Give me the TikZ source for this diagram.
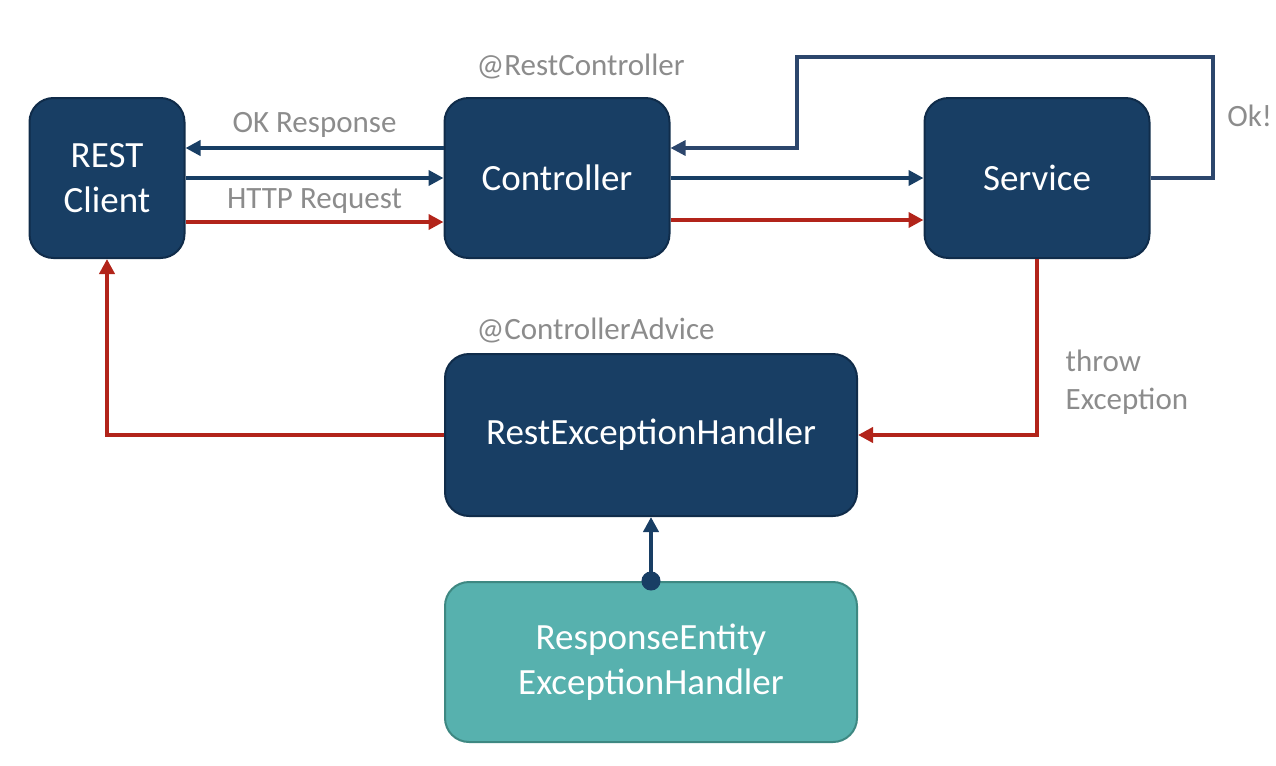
\documentclass[tikz,border=0pt]{standalone}
\usepackage{fontspec}
\setmainfont{Carlito}
\usetikzlibrary{arrows.meta,positioning}
\definecolor{flow@navy}{RGB}{24,62,100}
\definecolor{flow@edge}{RGB}{16,44,74}
\definecolor{flow@loop}{RGB}{44,70,108}
\definecolor{flow@red}{RGB}{178,36,26}
\definecolor{flow@teal}{RGB}{87,177,174}
\definecolor{flow@tealedge}{RGB}{62,136,130}
\definecolor{flow@gray}{RGB}{140,140,140}
\tikzset{
  flow/.style={
    x=0.5pt, y=-0.5pt,
    >={Triangle[length=7.5pt,width=7.5pt]},
    line width=2pt
  },
  compbox/.style={                 % dark component box
    draw=flow@edge, line width=1pt,
    rounded corners=12pt,
    fill=flow@navy,
    text=white,
    align=center,
    inner sep=0pt,
    font=\fontsize{18.5}{22.5}\selectfont,
    minimum width=112.5pt,
    minimum height=80pt
  },
  basebox/.style={                 % library base class box
    compbox,
    draw=flow@tealedge,
    fill=flow@teal
  },
  okarrow/.style={->, draw=flow@navy},
  errarrow/.style={->, draw=flow@red},
  annot/.style={font=\fontsize{15.5}{19}\selectfont, text=flow@gray}
}
\begin{document}
\begin{tikzpicture}[flow]
\useasboundingbox (0,0) rectangle (1276,766);

\node[compbox, minimum width=77.5pt] (client) at (107,178) {REST\\Client};
\node[compbox]                       (ctrl)   at (557,178) {Controller};
\node[compbox]                       (svc)    at (1037,178) {Service};
\node[compbox, minimum width=206pt, minimum height=81pt] (reh) at (651,435) {RestExceptionHandler};
\node[basebox, minimum width=206pt]  (ent)    at (651,662) {ResponseEntity\\ExceptionHandler};

\node[annot, anchor=west] (rcann) at (468,66)  {@RestController};
\node[annot, anchor=west] (caann) at (468,330) {@ControllerAdvice};

\coordinate (okA) at (1213,57);
\coordinate (okB) at (797,57);

% client <-> controller
\draw[okarrow] ([yshift=15pt]ctrl.west) -- node[annot, above=1pt] {OK Response} ([yshift=15pt]client.east);
\draw[okarrow] (client.east) -- node[annot, below=1pt] {HTTP Request} (ctrl.west);
\draw[errarrow] ([yshift=-22pt]client.east) -- ([yshift=-22pt]ctrl.west);

% controller <-> service
\draw[okarrow] (ctrl.east) -- (svc.west);
\draw[errarrow] ([yshift=-21pt]ctrl.east) -- ([yshift=-21pt]svc.west);
\draw[okarrow, draw=flow@loop, line width=1.6pt] (svc.east) -| (okA) -- node[pos=0, annot, anchor=north west, xshift=3pt, yshift=-20pt] {Ok!} (okB) |- ([yshift=15pt]ctrl.east);

% exception path
\draw[errarrow] (svc.south) |- node[pos=0.35, annot, anchor=west, align=left, xshift=10pt] {throw\\Exception} (reh.east);
\draw[errarrow] (reh.west) -| (client.south);
\draw[draw=flow@navy, {Circle[length=9.5pt,width=9.5pt]}-{Triangle[length=7.5pt,width=7.5pt]}, shorten <=-4.75pt] (ent.north) -- (reh.south);

\end{tikzpicture}
\end{document}
